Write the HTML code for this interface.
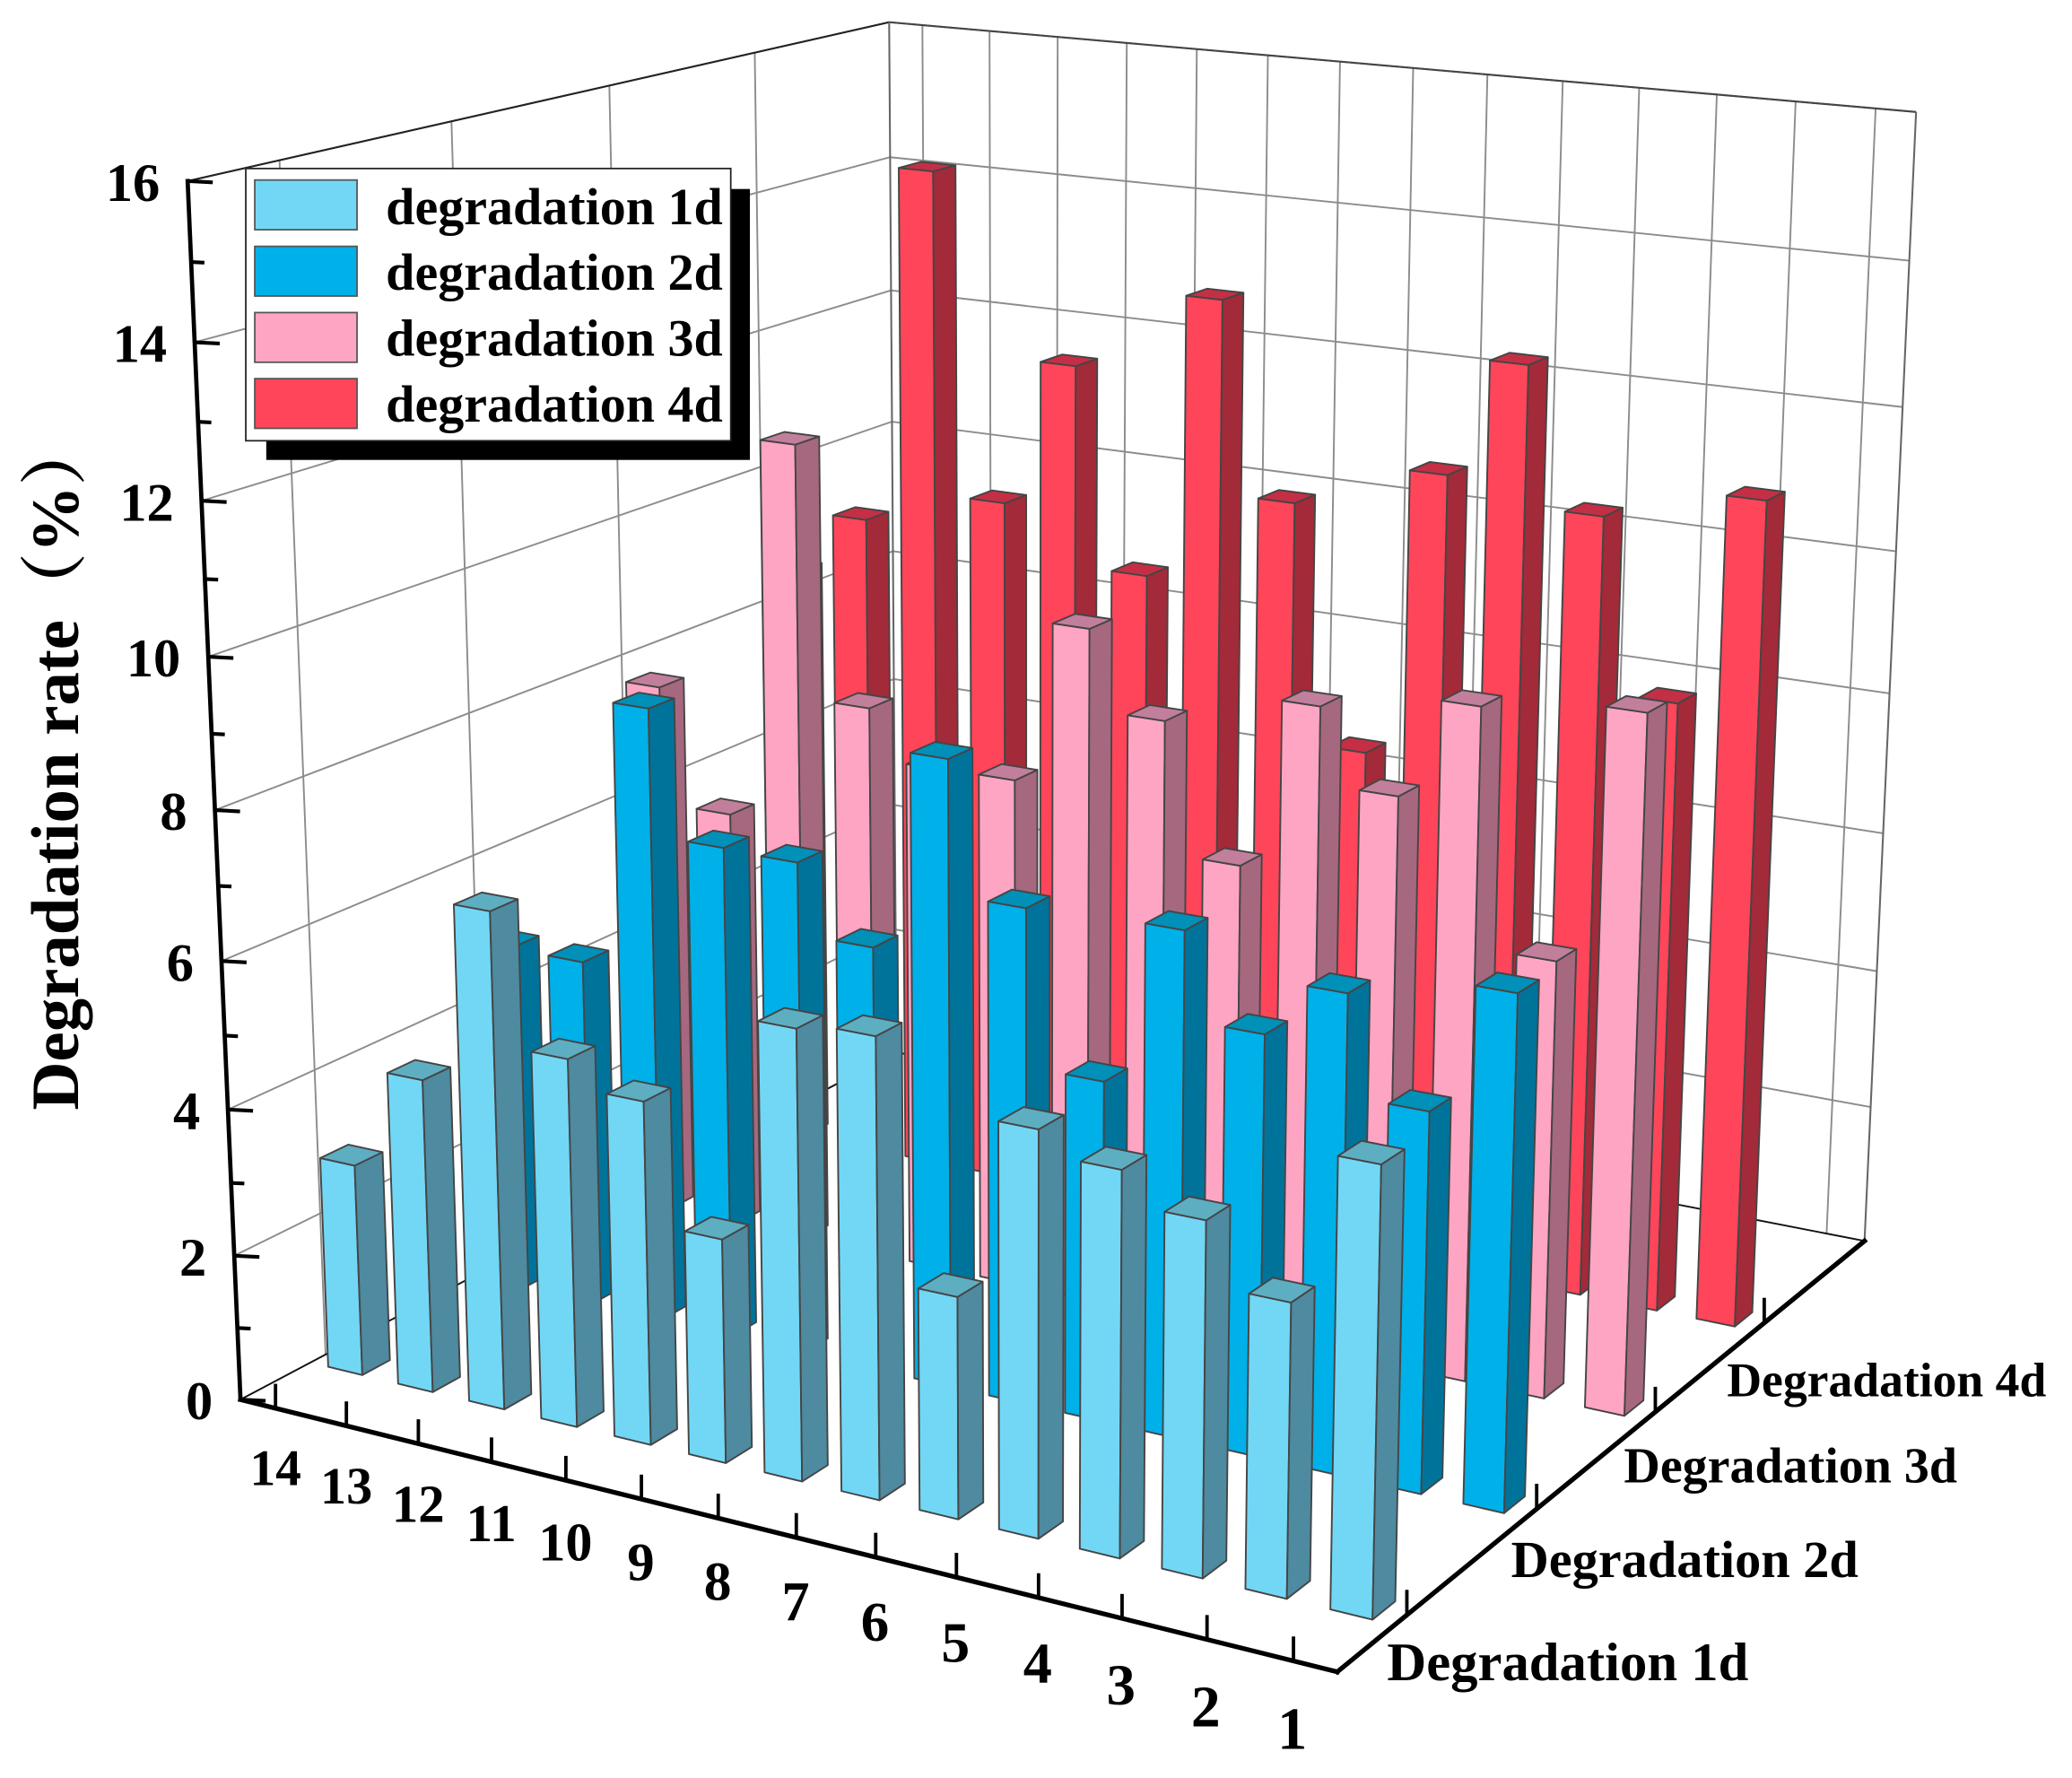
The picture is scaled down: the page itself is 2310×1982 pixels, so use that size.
<!DOCTYPE html>
<html lang="en">
<head>
<meta charset="utf-8">
<title>Degradation rate 3D bar chart</title>
<style>
html,body{margin:0;padding:0;background:#fff;}
svg{display:block;width:2310px;height:1982px;}
text{font-family:"Liberation Serif","Noto Serif CJK SC",serif;font-weight:bold;fill:#000;}
</style>
</head>
<body>
<svg id="chart" xmlns="http://www.w3.org/2000/svg" viewBox="0 0 1568 1345.34">
  <rect x="0" y="0" width="1568" height="1345.34" fill="#fff"/>
  <g id="walls"></g>
  <g id="bars"></g>
  <g id="axes"></g>
  <text transform="translate(59,840) rotate(-90)" font-size="50.8">Degradation rate（%）</text>
  <g>
    <rect x="201.5" y="143" width="366" height="205" fill="#000"/>
    <rect x="186" y="127.5" width="367" height="206" fill="#fff" stroke="#222" stroke-width="1.2"/>
    <rect x="192.8" y="136.2" width="77.4" height="37.6" fill="#72d7f5" stroke="#555" stroke-width="1.2"/>
    <text x="292" y="169.7" font-size="39.4">degradation 1d</text>
    <rect x="192.8" y="186.4" width="77.4" height="37.6" fill="#00b0e8" stroke="#555" stroke-width="1.2"/>
    <text x="292" y="219.3" font-size="39.4">degradation 2d</text>
    <rect x="192.8" y="236.5" width="77.4" height="37.6" fill="#ffa5c4" stroke="#555" stroke-width="1.2"/>
    <text x="292" y="269.3" font-size="39.4">degradation 3d</text>
    <rect x="192.8" y="286.5" width="77.4" height="37.6" fill="#ff4559" stroke="#555" stroke-width="1.2"/>
    <text x="292" y="319" font-size="39.4">degradation 4d</text>
  </g>
</svg>
<script>
// ---- chart data ----
const categories = [14, 13, 12, 11, 10, 9, 8, 7, 6, 5, 4, 3, 2, 1];
const seriesNames = ['Degradation 1d', 'Degradation 2d', 'Degradation 3d', 'Degradation 4d'];
const values1d = [2.93, 4.31, 6.77, 5.0, 4.64, 3.02, 6.0, 6.1, 2.94, 5.32, 5.02, 4.6, 3.79, 5.73];
const values2d = [4.92, 4.9, 8.58, 6.85, 6.83, 5.86, 8.56, 6.76, 4.64, 6.84, 5.67, 6.4, 5.07, 6.79];
const values3d = [7.72, 6.05, 11.43, 7.9, 7.2, 7.22, 9.47, 8.37, 6.56, 8.89, 7.85, 9.21, 6.0, 9.45];
const values4d = [8.62, 9.52, 14.63, 10.04, 12.12, 9.28, 13.28, 10.59, 7.23, 11.25, 12.87, 10.96, 8.57, 11.45];
const zMajorTicks = [0, 2, 4, 6, 8, 10, 12, 14, 16];
const zMinorTicks = [1, 3, 5, 7, 9, 11, 13, 15];

// ---- plot box geometry (corners of the projected box) ----
const cornerO = [182, 1059];
const cornerX = [1012, 1265];
const cornerXY = [1411, 939];
const cornerZ = [142, 137];
const cornerYZ = [672, 17];
const cornerXYZ = [1450, 85];
const zMax = 16;
const barHalfU = 0.0175;
const barFrontV = 0.02;
const barBackV = 0.017;

function intersect(a, b, c, d) {
  const d1x = b[0] - a[0], d1y = b[1] - a[1], d2x = d[0] - c[0], d2y = d[1] - c[1];
  const den = d1x * d2y - d1y * d2x;
  const t = ((c[0] - a[0]) * d2y - (c[1] - a[1]) * d2x) / den;
  return [a[0] + t * d1x, a[1] + t * d1y];
}
const vpX = intersect(cornerO, cornerX, cornerYZ, cornerXYZ);
const vpY = intersect(cornerX, cornerXY, cornerZ, cornerYZ);
const vpZ = intersect(cornerZ, cornerO, cornerXYZ, cornerXY);
const cornerY = intersect(cornerO, vpY, cornerXY, vpX);
const ka = (cornerO[0] - cornerX[0]) / (cornerX[0] - vpX[0]);
const kb = (cornerO[0] - cornerY[0]) / (cornerY[0] - vpY[0]);
const kc = (cornerO[1] - cornerZ[1]) / (cornerZ[1] - vpZ[1]);

function project(u, v, w) {
  const d = 1 + ka * u + kb * v + kc * w;
  return [
    (cornerO[0] + ka * u * vpX[0] + kb * v * vpY[0] + kc * w * vpZ[0]) / d,
    (cornerO[1] + ka * u * vpX[1] + kb * v * vpY[1] + kc * w * vpZ[1]) / d
  ];
}
function xScale(i) { return (i + 0.5) / categories.length; }
function yScale(j) { return (j + 0.5) / (seriesNames.length + 0.5); }
function zScale(value) { return value / zMax; }

// ---- drawing helpers ----
const NS = 'http://www.w3.org/2000/svg';
const wallsLayer = document.getElementById('walls');
const barsLayer = document.getElementById('bars');
const axesLayer = document.getElementById('axes');
function makeLine(p, q, stroke, width) {
  const l = document.createElementNS(NS, 'line');
  l.setAttribute('x1', p[0].toFixed(2));
  l.setAttribute('y1', p[1].toFixed(2));
  l.setAttribute('x2', q[0].toFixed(2));
  l.setAttribute('y2', q[1].toFixed(2));
  l.setAttribute('stroke', stroke);
  l.setAttribute('stroke-width', width);
  return l;
}
function makeFace(points, fill) {
  const f = document.createElementNS(NS, 'polygon');
  f.setAttribute('points', points.map(p => p[0].toFixed(2) + ',' + p[1].toFixed(2)).join(' '));
  f.setAttribute('fill', fill);
  f.setAttribute('stroke', '#454545');
  f.setAttribute('stroke-width', '1.3');
  f.setAttribute('stroke-linejoin', 'round');
  return f;
}
function makeText(str, x, y, size, anchor) {
  const t = document.createElementNS(NS, 'text');
  t.setAttribute('x', x.toFixed(1));
  t.setAttribute('y', y.toFixed(1));
  t.setAttribute('font-size', size);
  t.setAttribute('text-anchor', anchor);
  t.textContent = str;
  return t;
}

// ---- walls and grid ----
const gridColor = '#8c8c8c';
zMajorTicks.forEach(function (z) {
  const w = zScale(z);
  if (z === 0) return;
  const a = makeLine(project(0, 0, w), project(0, 1, w), gridColor, 1.3);
  
  
  wallsLayer.appendChild(a);
  const b = makeLine(project(0, 1, w), project(1, 1, w), gridColor, 1.3);
  
  
  wallsLayer.appendChild(b);
});
categories.forEach(function (c, i) {
  const u = xScale(i);
  const l = makeLine(project(u, 1, 0), project(u, 1, 1), gridColor, 1.3);
  
  
  wallsLayer.appendChild(l);
});
seriesNames.forEach(function (s, j) {
  const v = yScale(j);
  const l = makeLine(project(0, v, 0), project(0, v, 1), gridColor, 1.3);
  
  
  wallsLayer.appendChild(l);
});
const topLeftEdge = makeLine(project(0, 0, 1), project(0, 1, 1), '#222', 1.4);


wallsLayer.appendChild(topLeftEdge);
const topBackEdge = makeLine(project(0, 1, 1), project(1, 1, 1), '#444', 1.4);


wallsLayer.appendChild(topBackEdge);
const backCornerEdge = makeLine(project(0, 1, 0), project(0, 1, 1), '#666', 1.4);


wallsLayer.appendChild(backCornerEdge);
const rightCornerEdge = makeLine(project(1, 1, 0), project(1, 1, 1), '#666', 1.4);


wallsLayer.appendChild(rightCornerEdge);
const floorLeftEdge = makeLine(project(0, 0, 0), project(0, 1, 0), '#111', 1.3);


wallsLayer.appendChild(floorLeftEdge);
const floorBackEdge = makeLine(project(0, 1, 0), project(1, 1, 0), '#111', 1.3);


wallsLayer.appendChild(floorBackEdge);

// ---- bars ----
const seriesValues = [values1d, values2d, values3d, values4d];
const seriesFront = ['#72d7f5', '#00b0e8', '#ffa5c4', '#ff4559'];
const seriesSide = ['#4e8aa0', '#00739b', '#a6687f', '#a32a38'];
const seriesTop = ['#5eaec2', '#0090b8', '#c27f9c', '#c42f45'];
for (let j = seriesNames.length - 1; j >= 0; j--) {
  const vals = seriesValues[j];
  categories.forEach(function (cat, i) {
    const u0 = xScale(i) - barHalfU, u1 = xScale(i) + barHalfU;
    const v0 = yScale(j) - barFrontV, v1 = yScale(j) + barBackV;
    const w = zScale(vals[i]);
    const g = document.createElementNS(NS, 'g');
    
    
    const front = makeFace([project(u0, v0, 0), project(u1, v0, 0), project(u1, v0, w), project(u0, v0, w)], seriesFront[j]);
    
    
    g.appendChild(front);
    const side = makeFace([project(u1, v0, 0), project(u1, v1, 0), project(u1, v1, w), project(u1, v0, w)], seriesSide[j]);
    
    
    g.appendChild(side);
    const top = makeFace([project(u0, v0, w), project(u1, v0, w), project(u1, v1, w), project(u0, v1, w)], seriesTop[j]);
    
    
    g.appendChild(top);
    barsLayer.appendChild(g);
  });
}

// ---- axes ----
const zAxisLine = makeLine(project(0, 0, 1), project(0, 0, 0), '#000', 3.2);


zAxisLine.setAttribute('stroke-linecap', 'square');
axesLayer.appendChild(zAxisLine);
const xAxisLine = makeLine(project(0, 0, 0), project(1, 0, 0), '#000', 3.6);


xAxisLine.setAttribute('stroke-linecap', 'square');
axesLayer.appendChild(xAxisLine);
const depthAxisLine = makeLine(project(1, 0, 0), project(1, 1, 0), '#000', 3.6);


depthAxisLine.setAttribute('stroke-linecap', 'square');
axesLayer.appendChild(depthAxisLine);

zMajorTicks.forEach(function (z) {
  const p = project(0, 0, zScale(z));
  const tick = makeLine(p, [p[0] + 19, p[1] + 1], '#000', 2.8);
  
  
  axesLayer.appendChild(tick);
  const label = makeText(String(z), p[0] - 21, p[1] + 15, 41, 'end');
  
  
  axesLayer.appendChild(label);
});
zMinorTicks.forEach(function (z) {
  const p = project(0, 0, zScale(z));
  const tick = makeLine(p, [p[0] + 10, p[1] + 0.5], '#000', 2.8);
  
  
  axesLayer.appendChild(tick);
});
categories.forEach(function (cat, i) {
  const p = project(xScale(i), 0, 0);
  const tick = makeLine(p, [p[0], p[1] - 18.5], '#000', 2.6);
  
  
  axesLayer.appendChild(tick);
  const f = i / (categories.length - 1);
  const label = makeText(String(cat), p[0] - f, p[1] + 58 + 8.5 * f, (39 + 6 * f).toFixed(1), 'middle');
  
  
  axesLayer.appendChild(label);
});
seriesNames.forEach(function (name, j) {
  const p = project(1, yScale(j), 0);
  const tick = makeLine(p, [p[0], p[1] - 19], '#000', 2.6);
  
  
  axesLayer.appendChild(tick);
  const size = 41.2 - 1.6 * j;
  const label = makeText(name, p[0] - 15 - 4.4 * j, p[1] + 49.5 + 2 * j, size.toFixed(1), 'start');
  
  
  axesLayer.appendChild(label);
});
</script>
</body>
</html>
